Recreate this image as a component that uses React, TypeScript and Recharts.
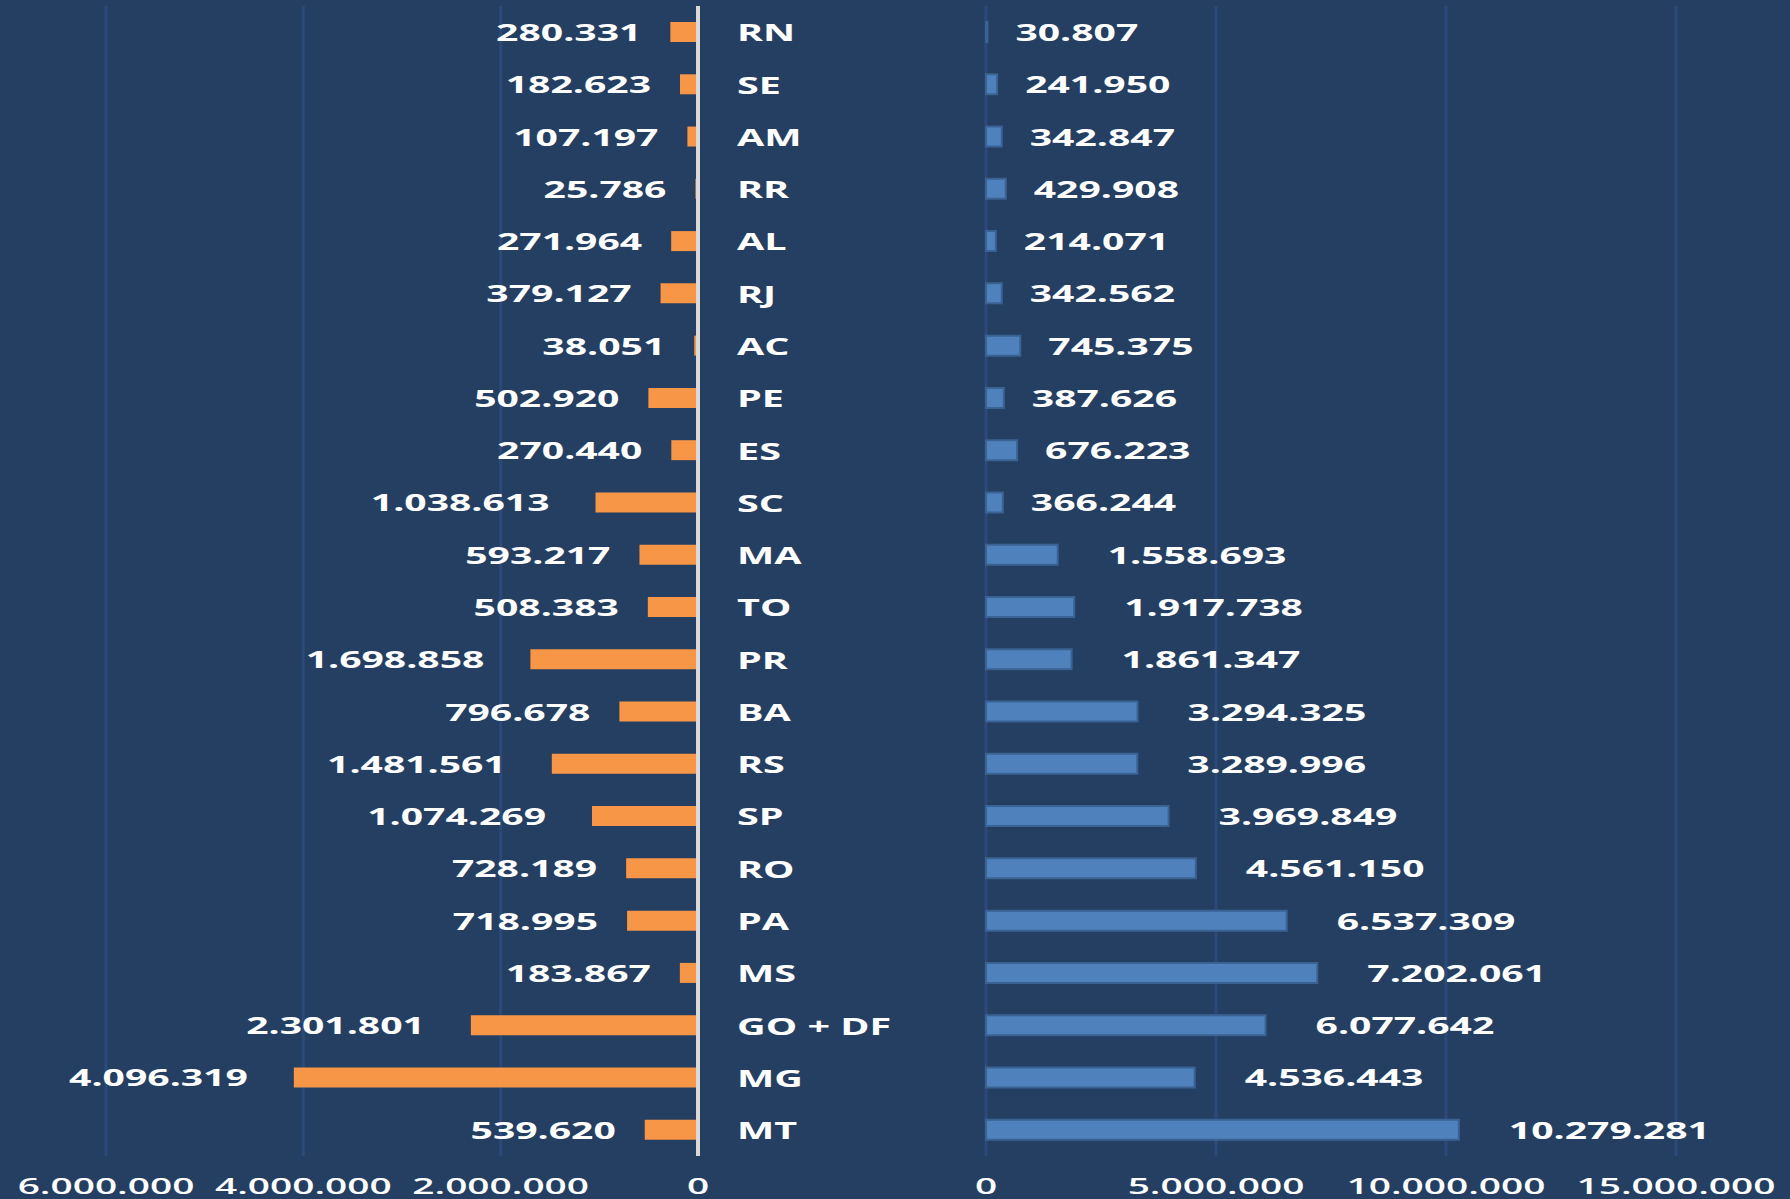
import React from 'react';
import { BarChart, Bar, XAxis, YAxis, CartesianGrid, ReferenceLine, LabelList } from 'recharts';

const categories = ['RN','SE','AM','RR','AL','RJ','AC','PE','ES','SC','MA','TO','PR','BA','RS','SP','RO','PA','MS','GO + DF','MG','MT'];
const leftValues = [280331,182623,107197,25786,271964,379127,38051,502920,270440,1038613,593217,508383,1698858,796678,1481561,1074269,728189,718995,183867,2301801,4096319,539620];
const rightValues = [30807,241950,342847,429908,214071,342562,745375,387626,676223,366244,1558693,1917738,1861347,3294325,3289996,3969849,4561150,6537309,7202061,6077642,4536443,10279281];
const leftTicks = [0, 2000000, 4000000, 6000000];
const rightTicks = [0, 5000000, 10000000, 15000000];

const data = categories.map((name, i) => ({ name, left: leftValues[i], right: rightValues[i] }));

const BG = '#243F62';
const GRID = '#2B4A7A';
const ORANGE = '#F79646';
const BLUE = '#4F81BD';
const FONT = '"Open Sans", "DejaVu Sans", sans-serif';

const fmt = (v: number) => String(Math.round(v)).replace(/\B(?=(\d{3})+(?!\d))/g, '.');

const LeftLabel = (props: any) => {
  const vb = props.viewBox || props;
  const x = props.x ?? vb.x;
  const y = props.y ?? vb.y;
  const w = props.width ?? vb.width;
  const h = props.height ?? vb.height;
  const s = fmt(Number(props.value));
  const edge = Math.min(x, x + w);
  const gap = s.length > 7 ? 46 : 29;
  return (
    <text transform={`translate(${edge - gap},${y + h / 2}) scale(1.70,1)`} textAnchor="end" dominantBaseline="central" fill="#FFFFFF" fontFamily={FONT} fontWeight={700} fontSize={23}>{s}</text>
  );
};

const RightLabel = (props: any) => {
  const vb = props.viewBox || props;
  const x = props.x ?? vb.x;
  const y = props.y ?? vb.y;
  const w = props.width ?? vb.width;
  const h = props.height ?? vb.height;
  const s = fmt(Number(props.value));
  const edge = Math.max(x, x + w);
  const gap = s.length > 7 ? 50 : 28;
  return (
    <text transform={`translate(${edge + gap},${y + h / 2}) scale(1.70,1)`} textAnchor="start" dominantBaseline="central" fill="#FFFFFF" fontFamily={FONT} fontWeight={700} fontSize={23}>{s}</text>
  );
};

const NumTick = (props: any) => {
  const { x, y, payload } = props;
  return (
    <text transform={`translate(${x},${y + 30}) scale(1.85,1)`} textAnchor="middle" dominantBaseline="central" fill="#FFFFFF" fontFamily={FONT} fontWeight={600} fontSize={21}>{fmt(Number(payload.value))}</text>
  );
};

const CatTick = (props: any) => {
  const { x, y, payload } = props;
  return (
    <text transform={`translate(${x + 39},${y}) scale(1.72,1)`} textAnchor="start" dominantBaseline="central" fill="#FFFFFF" fontFamily={FONT} fontWeight={700} fontSize={23}>{payload.value}</text>
  );
};

export default function App() {
  return (
    <div style={{ position: 'absolute', left: 0, top: 0, width: 1790, height: 1199, background: BG, overflow: 'hidden' }}>
      <div style={{ position: 'absolute', left: 0, top: 0 }}>
        <BarChart width={990} height={1199} data={data} layout="vertical" margin={{ top: 6, right: 0, bottom: 3, left: 106 }} barSize={20}>
          <CartesianGrid horizontal={false} vertical={true} stroke={GRID} strokeWidth={3} />
          <XAxis type="number" domain={[0, 6000000]} ticks={leftTicks} reversed axisLine={false} tickLine={false} tickSize={0} tickMargin={0} height={40} tick={<NumTick />} interval={0} />
          <YAxis type="category" dataKey="name" orientation="right" width={292} axisLine={false} tickLine={false} tickSize={0} tickMargin={0} tick={<CatTick />} interval={0} />
          <Bar dataKey="left" fill={ORANGE} isAnimationActive={false}>
            <LabelList dataKey="left" content={<LeftLabel />} />
          </Bar>
          <ReferenceLine x={0} stroke="#D9D9D9" strokeWidth={4} />
        </BarChart>
      </div>
      <div style={{ position: 'absolute', left: 966, top: 0 }}>
        <BarChart width={824} height={1199} data={data} layout="vertical" margin={{ top: 6, right: 114, bottom: 3, left: 20 }} barSize={20}>
          <CartesianGrid horizontal={false} vertical={true} stroke={GRID} strokeWidth={3} />
          <XAxis type="number" domain={[0, 15000000]} ticks={rightTicks} axisLine={false} tickLine={false} tickSize={0} tickMargin={0} height={40} tick={<NumTick />} interval={0} />
          <YAxis type="category" dataKey="name" hide width={0} />
          <Bar dataKey="right" fill={BLUE} stroke="#3A6394" strokeWidth={2} isAnimationActive={false}>
            <LabelList dataKey="right" content={<RightLabel />} />
          </Bar>
        </BarChart>
      </div>
    </div>
  );
}
